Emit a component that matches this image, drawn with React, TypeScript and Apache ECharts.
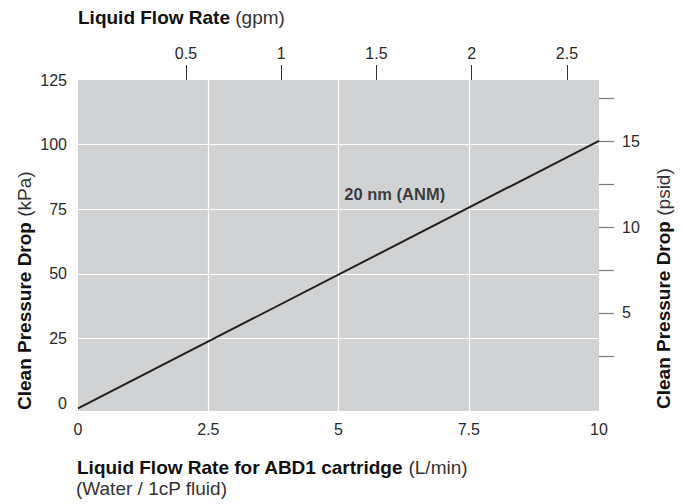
import React, { useEffect, useRef } from "react";
import * as echarts from "echarts";

// ---- data ----
const flowLmin = [0, 10];
const pressureKpa = [-2, 101.5];
const seriesName = "20 nm (ANM)";
const seriesLabelPos = [6.08, 81];
const kpaLabels = [0, 25, 50, 75, 100, 125];
const kpaGrid = [25, 50, 75, 100];
const gpmTicks = [0.5, 1, 1.5, 2, 2.5];
const psidTicks = [2.5, 5, 7.5, 10, 12.5, 15, 17.5];
const psidLabels = [5, 10, 15];

const FONT = "'Liberation Sans', Arial, Helvetica, sans-serif";

export default function App() {
  const ref = useRef<HTMLDivElement>(null);
  useEffect(() => {
    if (!ref.current) return;
    const chart = echarts.init(ref.current, undefined, { renderer: "svg" });
    const tickLabel = { fontFamily: FONT, fontSize: 16, color: "#2a2a2a" };
    const titleRich = {
      b: { fontFamily: FONT, fontSize: 19, fontWeight: "bold", fill: "#111111" },
      r: { fontFamily: FONT, fontSize: 19, fontWeight: "normal", fill: "#333333" },
    };
    const option: any = {
      animation: false,
      backgroundColor: "#ffffff",
      grid: {
        left: 78,
        right: 84,
        top: 80,
        bottom: 93,
        show: true,
        backgroundColor: "#d1d2d4",
        borderWidth: 0,
      },
      xAxis: [
        {
          type: "value",
          min: 0,
          max: 10,
          interval: 2.5,
          position: "bottom",
          axisLine: { show: false, onZero: false },
          axisTick: { show: false },
          axisLabel: { ...tickLabel, margin: 10 },
          splitLine: {
            show: true,
            showMinLine: false,
            showMaxLine: false,
            lineStyle: { color: "#ffffff", width: 1.2 },
          },
        },
        {
          type: "value",
          position: "top",
          min: -0.0669,
          max: 2.668,
          axisLine: { show: false, onZero: false },
          axisTick: {
            show: true,
            length: 15,
            inside: false,
            customValues: gpmTicks,
            lineStyle: { color: "#333333", width: 1 },
          },
          axisLabel: { ...tickLabel, margin: 19, customValues: gpmTicks },
          splitLine: { show: false },
        },
      ],
      yAxis: [
        {
          type: "value",
          min: -3,
          max: 125,
          position: "left",
          axisLine: { show: false, onZero: false },
          axisTick: { show: false },
          axisLabel: { ...tickLabel, margin: 11, customValues: kpaLabels },
          splitLine: { show: false },
        },
        {
          type: "value",
          position: "right",
          min: -0.7,
          max: 18.55,
          axisLine: { show: false, onZero: false },
          axisTick: {
            show: true,
            length: 15,
            inside: false,
            customValues: psidTicks,
            lineStyle: { color: "#7a7a7a", width: 1.2 },
          },
          axisLabel: { ...tickLabel, margin: 23, customValues: psidLabels },
          splitLine: { show: false },
        },
      ],
      series: [
        {
          type: "line",
          name: "grid",
          xAxisIndex: 0,
          yAxisIndex: 0,
          data: [],
          z: 1,
          silent: true,
          markLine: {
            silent: true,
            symbol: ["none", "none"],
            label: { show: false },
            lineStyle: { color: "#ffffff", width: 1.2, type: "solid" },
            data: kpaGrid.map((v) => ({ yAxis: v })),
          },
        },
        {
          type: "line",
          name: seriesName,
          xAxisIndex: 0,
          yAxisIndex: 0,
          z: 5,
          showSymbol: false,
          symbol: "none",
          lineStyle: { color: "#231f20", width: 2 },
          data: flowLmin.map((x, i) => [x, pressureKpa[i]]),
        },
        {
          type: "scatter",
          name: "label",
          xAxisIndex: 0,
          yAxisIndex: 0,
          z: 6,
          symbolSize: 0,
          data: [seriesLabelPos],
          label: {
            show: true,
            position: "inside",
            formatter: seriesName,
            fontFamily: FONT,
            fontSize: 16.5,
            fontWeight: "bold",
            color: "#111111",
          },
        },
      ],
      graphic: [
        {
          type: "text",
          x: 78,
          y: 17,
          style: {
            text: "{b|Liquid Flow Rate}{r| (gpm)}",
            textAlign: "left",
            textVerticalAlign: "middle",
            rich: titleRich,
          },
        },
        {
          type: "text",
          x: 77,
          y: 467,
          style: {
            text: "{b|Liquid Flow Rate for ABD1 cartridge}{r| (L/min)}",
            textAlign: "left",
            textVerticalAlign: "middle",
            rich: titleRich,
          },
        },
        {
          type: "text",
          x: 76,
          y: 488,
          style: {
            text: "(Water / 1cP fluid)",
            textAlign: "left",
            textVerticalAlign: "middle",
            fontFamily: FONT,
            fontSize: 19,
            fill: "#333333",
          },
        },
        {
          type: "text",
          x: 24,
          y: 410,
          rotation: Math.PI / 2,
          style: {
            text: "{b|Clean Pressure Drop}{r| (kPa)}",
            textAlign: "left",
            textVerticalAlign: "middle",
            rich: titleRich,
          },
        },
        {
          type: "text",
          x: 663,
          y: 409,
          rotation: Math.PI / 2,
          style: {
            text: "{b|Clean Pressure Drop}{r| (psid)}",
            textAlign: "left",
            textVerticalAlign: "middle",
            rich: titleRich,
          },
        },
      ],
    };
    chart.setOption(option);
    return () => chart.dispose();
  }, []);
  return (
    <div
      ref={ref}
      style={{ position: "fixed", left: 0, top: 0, width: 683, height: 504 }}
    />
  );
}
